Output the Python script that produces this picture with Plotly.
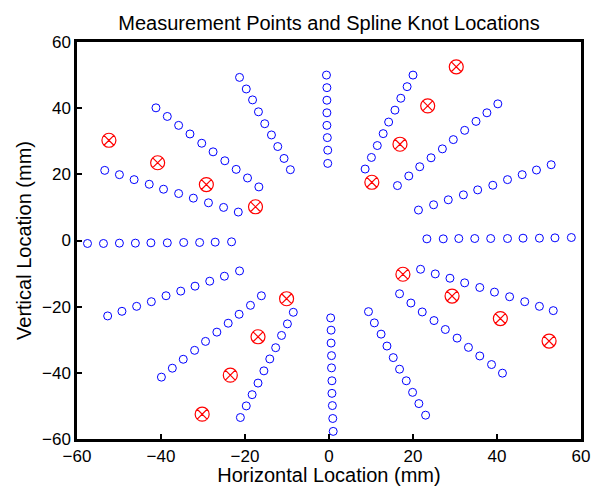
import plotly.graph_objects as go

# Measurement points, one ray at a time (mm)
ray_top_x = [-0.6, -0.5, -0.5, -0.5, -0.5, -0.4, -0.3, -0.3]
ray_top_y = [50.0, 46.2, 42.4, 38.6, 34.8, 31.1, 27.3, 23.3]

ray_bottom_x = [0.4, 0.5, 0.5, 0.6, 0.6, 0.7, 0.7, 0.8, 0.9, 1.0]
ray_bottom_y = [-23.4, -27.1, -31.0, -34.8, -38.5, -42.4, -46.2, -49.9, -53.8, -57.7]

ray_right_x = [23.3, 27.2, 30.9, 34.7, 38.5, 42.5, 46.2, 50.1, 53.8, 57.7]
ray_right_y = [0.5, 0.5, 0.6, 0.6, 0.6, 0.6, 0.7, 0.7, 0.8, 0.9]

ray_left_x = [-57.5, -53.7, -49.9, -46.1, -42.4, -38.5, -34.6, -30.8, -27.1, -23.2]
ray_left_y = [-0.9, -0.9, -0.8, -0.8, -0.7, -0.7, -0.6, -0.6, -0.5, -0.4]

ray_ul_steep_x = [-21.3, -19.7, -18.2, -16.8, -15.3, -13.7, -12.2, -10.7, -9.2]
ray_ul_steep_y = [49.3, 45.8, 42.5, 38.9, 35.3, 31.9, 28.4, 24.8, 21.4]

ray_ul_mid_x = [-41.2, -38.5, -35.8, -33.1, -30.3, -27.6, -24.8, -22.1, -19.4, -16.7]
ray_ul_mid_y = [40.1, 37.5, 34.8, 32.2, 29.4, 26.8, 24.1, 21.5, 18.9, 16.2]

ray_ul_flat_x = [-53.4, -49.9, -46.4, -42.8, -39.4, -35.8, -32.3, -28.7, -25.1, -21.6]
ray_ul_flat_y = [21.2, 19.9, 18.4, 17.0, 15.5, 14.2, 12.8, 11.4, 10.0, 8.6]

ray_ll_flat_x = [-52.7, -49.3, -45.8, -42.3, -38.8, -35.3, -31.9, -28.4, -24.9, -21.3]
ray_ll_flat_y = [-22.8, -21.4, -19.9, -18.5, -16.7, -15.3, -13.8, -12.3, -10.8, -9.2]

ray_ll_mid_x = [-39.9, -37.3, -34.7, -32.0, -29.4, -26.7, -24.0, -21.4, -18.7, -16.1]
ray_ll_mid_y = [-41.3, -38.6, -35.9, -33.2, -30.5, -27.7, -25.0, -22.3, -19.6, -16.7]

ray_ll_steep_x = [-21.1, -19.7, -18.3, -16.9, -15.5, -14.1, -12.7, -11.3, -9.9, -8.5]
ray_ll_steep_y = [-53.5, -50.0, -46.6, -43.1, -39.4, -35.8, -32.4, -28.7, -25.2, -21.7]

ray_ur_steep_x = [8.6, 10.1, 11.5, 12.9, 14.2, 15.7, 17.1, 18.6, 20.0]
ray_ur_steep_y = [21.6, 25.1, 28.7, 32.3, 35.8, 39.4, 43.0, 46.5, 50.0]

ray_ur_mid_x = [16.3, 19.0, 21.6, 24.3, 27.0, 29.6, 32.3, 35.0, 37.6, 40.2]
ray_ur_mid_y = [16.6, 19.5, 22.3, 25.0, 27.7, 30.5, 33.3, 36.0, 38.6, 41.3]

ray_ur_flat_x = [21.3, 24.9, 28.4, 32.0, 35.4, 39.0, 42.5, 46.0, 49.4, 52.9]
ray_ur_flat_y = [9.2, 10.8, 12.3, 13.8, 15.3, 16.7, 18.4, 19.9, 21.3, 22.9]

ray_lr_flat_x = [21.8, 25.3, 28.8, 32.3, 35.9, 39.4, 43.0, 46.6, 50.1, 53.4]
ray_lr_flat_y = [-8.7, -10.1, -11.4, -12.8, -14.2, -15.6, -17.0, -18.5, -19.9, -21.2]

ray_lr_mid_x = [16.8, 19.5, 22.2, 25.0, 27.7, 30.5, 33.2, 35.9, 38.7, 41.3]
ray_lr_mid_y = [-16.1, -18.9, -21.6, -24.2, -26.9, -29.5, -32.3, -34.9, -37.5, -40.1]

ray_lr_steep_x = [9.4, 10.8, 12.4, 13.8, 15.3, 16.8, 18.4, 19.9, 21.4, 23.0]
ray_lr_steep_y = [-21.5, -24.9, -28.3, -31.9, -35.4, -38.9, -42.4, -45.9, -49.3, -52.8]

# Spline knot locations (mm)
knot_x = [30.3, 23.5, 16.9, 10.2, -52.4, -40.8, -29.2, -17.5,
          17.6, 29.3, 40.8, 52.4, -10.1, -16.9, -23.5, -30.2]
knot_y = [52.5, 40.7, 29.1, 17.6, 30.3, 23.5, 16.9, 10.2,
          -10.2, -16.8, -23.6, -30.4, -17.6, -29.1, -40.7, -52.5]

# Axis tick values
tick_vals = [-60, -40, -20, 0, 20, 40, 60]

ray_x = [ray_top_x, ray_bottom_x, ray_right_x, ray_left_x,
         ray_ul_steep_x, ray_ul_mid_x, ray_ul_flat_x,
         ray_ll_flat_x, ray_ll_mid_x, ray_ll_steep_x,
         ray_ur_steep_x, ray_ur_mid_x, ray_ur_flat_x,
         ray_lr_flat_x, ray_lr_mid_x, ray_lr_steep_x]
ray_y = [ray_top_y, ray_bottom_y, ray_right_y, ray_left_y,
         ray_ul_steep_y, ray_ul_mid_y, ray_ul_flat_y,
         ray_ll_flat_y, ray_ll_mid_y, ray_ll_steep_y,
         ray_ur_steep_y, ray_ur_mid_y, ray_ur_flat_y,
         ray_lr_flat_y, ray_lr_mid_y, ray_lr_steep_y]

meas_x = [v for r in ray_x for v in r]
meas_y = [v for r in ray_y for v in r]

FONT = "Liberation Sans, Arial, Helvetica, sans-serif"

W, H = 591, 486
L, T, R, B = 77, 42, 10, 47

fig = go.Figure()
fig.add_trace(go.Scatter(
    x=meas_x, y=meas_y, mode="markers", name="Measurement points",
    marker=dict(symbol="circle-open", size=8, color="#0000ff",
                line=dict(width=1, color="#0000ff")),
))
fig.add_trace(go.Scatter(
    x=knot_x, y=knot_y, mode="markers", name="Spline knots",
    marker=dict(symbol="circle-x-open", size=14, color="#ff0000",
                line=dict(width=1.2, color="#ff0000")),
))

fig.update_layout(
    width=W, height=H,
    margin=dict(l=L, r=R, t=T, b=B, autoexpand=False),
    paper_bgcolor="white", plot_bgcolor="white",
    showlegend=False,
    font=dict(family=FONT, color="black"),
    title=dict(text="Measurement Points and Spline Knot Locations",
               font=dict(family=FONT, size=20, color="black"),
               x=0.5, xanchor="center",
               xref="paper", yref="container", y=1 - 23 / H, yanchor="middle"),
)

for upd in (fig.update_xaxes, fig.update_yaxes):
    upd(range=[-60, 60], tickmode="array", tickvals=tick_vals,
        showgrid=True, gridcolor="white", gridwidth=1, zeroline=False,
        automargin=False,
        showline=True, linecolor="black", linewidth=2.5, mirror=True,
        ticks="inside", ticklen=5, tickwidth=2, tickcolor="black",
        tickfont=dict(family=FONT, size=17, color="black"))

fig.update_xaxes(title=dict(text="Horizontal Location (mm)",
                            font=dict(family=FONT, size=20, color="black"),
                            standoff=4))
fig.update_yaxes(title=dict(text="Vertical Location (mm)",
                            font=dict(family=FONT, size=20, color="black"),
                            standoff=6))

# Remove the default page margin so the figure sits at the window's corner
post = (
    "document.body.style.margin='0';"
    "document.body.style.overflow='hidden';"
)
fig.write_html("out.html", post_script=post,
               config={"displayModeBar": False})
